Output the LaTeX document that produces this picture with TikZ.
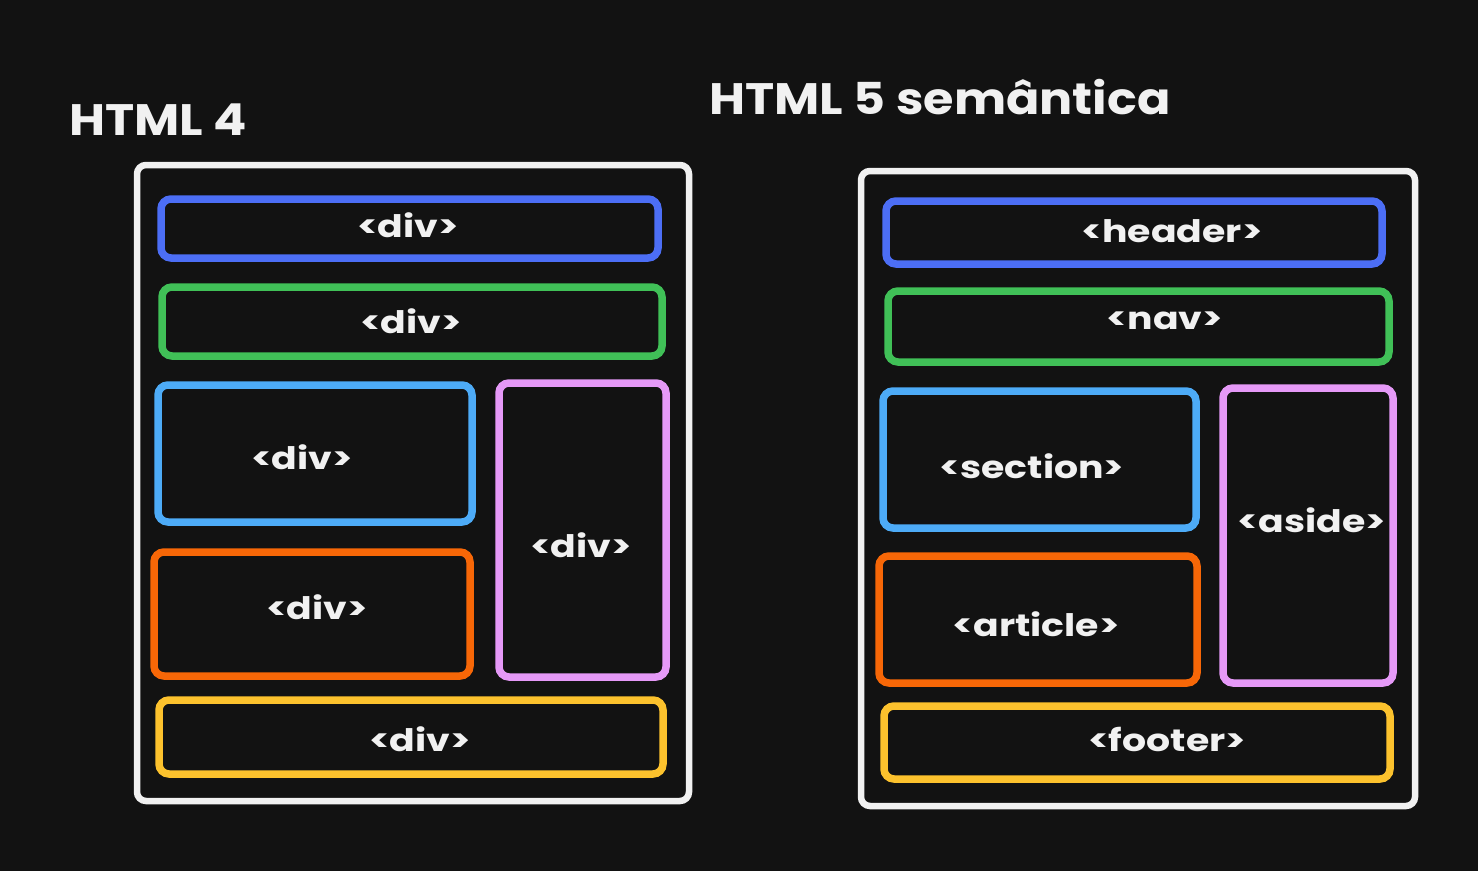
\documentclass[tikz,border=0pt]{standalone}
\usepackage{fontspec}
\setmainfont{Poppins}
\newfontfamily\lblfont[FakeStretch=1.22]{Poppins}
\newfontfamily\ttlfont[FakeStretch=1.12]{Poppins}
\definecolor{bg}{HTML}{121212}
\definecolor{fg}{HTML}{F1F1F1}
\definecolor{cindigo}{HTML}{4C6EF5}
\definecolor{cgreen}{HTML}{40C057}
\definecolor{cblue}{HTML}{4DABF7}
\definecolor{corange}{HTML}{F76707}
\definecolor{cviolet}{HTML}{E599F7}
\definecolor{cyellow}{HTML}{FCC22D}
\tikzset{
  frame/.style={draw=fg, line width=6.5pt, rounded corners=9pt, fill=bg, inner sep=0pt, outer sep=0pt},
  box/.style={draw=#1, line width=7.5pt, rounded corners=10pt, inner sep=0pt, outer sep=0pt},
  lbl/.style={text=fg, font=\lblfont\fontsize{31}{34}\selectfont\bfseries, inner sep=0pt},
  title/.style={text=fg, font=\ttlfont\fontsize{44}{48}\selectfont\bfseries, inner sep=0pt},
}
\begin{document}
\begin{tikzpicture}[x=1pt,y=-1pt]
\fill[bg] (0,0) rectangle (1478,871);
\useasboundingbox (0,0) rectangle (1478,871);
% titles
\node[title] (t4) at (158,120) {HTML 4};
\node[title] (t5) at (940,97) {HTML 5 semântica};
% left layout
\node[frame, minimum width=552pt, minimum height=636pt] (lf) at (413,483) {};
\node[box=cindigo, minimum width=497pt, minimum height=59pt] (d1) at (409.5,228.5) {};
\node[box=cgreen, minimum width=500pt, minimum height=69pt] (d2) at (412,321.5) {};
\node[box=cblue, minimum width=314pt, minimum height=137pt] (d3) at (315,453.5) {};
\node[box=corange, minimum width=316pt, minimum height=124pt] (d4) at (312,614) {};
\node[box=cviolet, minimum width=167pt, minimum height=294pt] (d5) at (582.5,530) {};
\node[box=cyellow, minimum width=504pt, minimum height=74pt] (d6) at (411,737) {};
\node[lbl] (d1t) at (408,225) {<div>};
\node[lbl] (d2t) at (411,321) {<div>};
\node[lbl] (d3t) at (302,457) {<div>};
\node[lbl] (d4t) at (317,607) {<div>};
\node[lbl] (d5t) at (581,545) {<div>};
\node[lbl] (d6t) at (420,739) {<div>};
% right layout
\node[frame, minimum width=554pt, minimum height=635pt] (rf) at (1138,488.5) {};
\node[box=cindigo, minimum width=496pt, minimum height=63pt] (hd) at (1134,232.5) {};
\node[box=cgreen, minimum width=501pt, minimum height=71pt] (nv) at (1138.5,326.5) {};
\node[box=cblue, minimum width=313pt, minimum height=137pt] (sc) at (1039.5,459.5) {};
\node[box=corange, minimum width=318pt, minimum height=127pt] (ar) at (1038,619.5) {};
\node[box=cviolet, minimum width=170pt, minimum height=295pt] (as) at (1308,535.5) {};
\node[box=cyellow, minimum width=506pt, minimum height=73pt] (ft) at (1137,742.5) {};
\node[lbl] (hdt) at (1172,231) {<header>};
\node[lbl] (nvt) at (1165,321) {<nav>};
\node[lbl] (sct) at (1032,466) {<section>};
\node[lbl] (art) at (1036,624) {<article>};
\node[lbl] (ast) at (1312,520) {<aside>};
\node[lbl] (ftt) at (1167,739) {<footer>};
\end{tikzpicture}
\end{document}
